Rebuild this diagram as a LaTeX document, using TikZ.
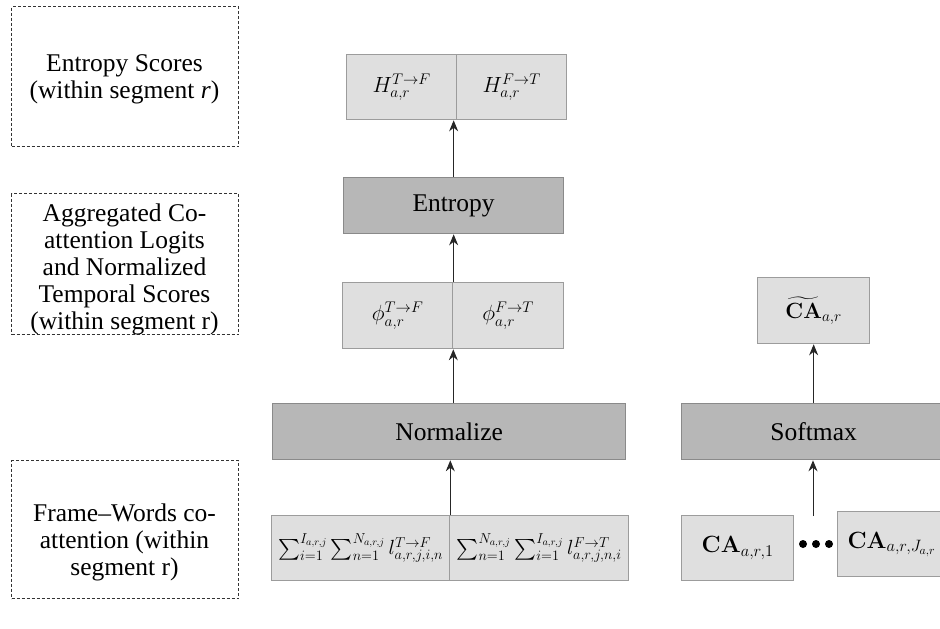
\documentclass[tikz,border=0pt]{standalone}
\usepackage{fix-cm}
\usepackage{amsmath}
\usepackage[no-math]{fontspec}
\setmainfont{Liberation Serif}
\usetikzlibrary{arrows.meta}
\definecolor{lightfill}{HTML}{DFDFDF}
\definecolor{darkfill}{HTML}{B7B7B7}
\definecolor{edgegray}{HTML}{9C9C9C}
\definecolor{edgedark}{HTML}{8A8A8A}
\begin{document}
\begin{tikzpicture}[x=1pt,y=-1pt,
  lt/.style={draw=edgegray, fill=lightfill, line width=1.3pt, anchor=north west, inner sep=0pt, font=\fontsize{22}{26}\selectfont},
  dk/.style={draw=edgedark, fill=darkfill, line width=1.3pt, anchor=north west, inner sep=0pt, font=\fontsize{25.5}{28}\selectfont},
  lblbox/.style={draw=black!80, dash pattern=on 3pt off 2pt, line width=1.2pt, anchor=north west, inner sep=0pt, minimum width=227pt},
  lbltext/.style={align=center, inner sep=0pt, font=\fontsize{25.5}{27}\selectfont},
  arr/.style={-{Stealth[length=11pt,width=9pt]}, line width=1pt, black!85},
  dot/.style={circle, fill=black, inner sep=0pt, minimum size=8pt}]
\useasboundingbox (0,0) rectangle (940,629);

% left dashed labels
\node[lblbox, minimum height=140pt] (b1) at (11,6) {};
\node[lbltext] (t1) at (124.5,79) {Entropy Scores\\(within segment \textit{r})};
\node[lblbox, minimum height=141pt] (b2) at (11,193) {};
\node[lbltext] (t2) at (124.5,269) {Aggregated Co-\\attention Logits\\and Normalized\\Temporal Scores\\(within segment r)};
\node[lblbox, minimum height=138pt] (b3) at (11,460) {};
\node[lbltext] (t3) at (124.5,542) {Frame--Words co-\\attention (within\\segment r)};

% middle column
\node[lt, minimum width=110pt, minimum height=65pt] (hL) at (346,54) {$H_{a,r}^{T\rightarrow F}$};
\node[lt, minimum width=110pt, minimum height=65pt] (hR) at (456,54) {$H_{a,r}^{F\rightarrow T}$};
\node[dk, minimum width=220pt, minimum height=56pt] (ent) at (343,177) {Entropy};
\node[lt, minimum width=110pt, minimum height=66pt] (pL) at (342,282) {$\phi_{a,r}^{T\rightarrow F}$};
\node[lt, minimum width=111pt, minimum height=66pt] (pR) at (452,282) {$\phi_{a,r}^{F\rightarrow T}$};
\node[dk, minimum width=353pt, minimum height=56pt] (norm) at (272,403) {Normalize};
\node[lt, minimum width=178pt, minimum height=65pt, font=\fontsize{20.5}{23}\selectfont] (sL) at (271,515)
  {$\sum_{i=1}^{I_{a,r,j}}\sum_{n=1}^{N_{a,r,j}} l_{a,r,j,i,n}^{T\rightarrow F}$};
\node[lt, minimum width=179pt, minimum height=65pt, font=\fontsize{20.5}{23}\selectfont] (sR) at (449,515)
  {$\sum_{n=1}^{N_{a,r,j}}\sum_{i=1}^{I_{a,r,j}} l_{a,r,j,n,i}^{F\rightarrow T}$};

% right column
\node[lt, minimum width=112pt, minimum height=66pt] (cat) at (757,277) {$\widetilde{\mathbf{CA}}_{a,r}$};
\node[dk, minimum width=264pt, minimum height=56pt] (soft) at (681,403) {Softmax};
\node[lt, minimum width=112pt, minimum height=65pt, font=\fontsize{23.5}{27}\selectfont] (ca1) at (681,515) {$\mathbf{CA}_{a,r,1}$};
\node[lt, minimum width=108pt, minimum height=65pt, font=\fontsize{23.5}{27}\selectfont] (caJ) at (837,511) {$\mathbf{CA}_{a,r,J_{a,r}}$};
\node[dot] (d1) at (803,544) {};
\node[dot] (d2) at (816,544) {};
\node[dot] (d3) at (829,544) {};

% arrows
\draw[arr] (ent.north) -- (ent.north |- hL.south);
\draw[arr] (ent.south |- pL.north) -- (ent.south);
\draw[arr] (norm.north -| pL.south east) -- (pL.south east);
\draw[arr] (sL.north east) -- (sL.north east |- norm.south);
\draw[arr] (soft.north -| cat.south) -- (cat.south);
\coordinate (caIn) at (813,516);
\draw[arr] (caIn) -- (caIn |- soft.south);
\end{tikzpicture}
\end{document}
